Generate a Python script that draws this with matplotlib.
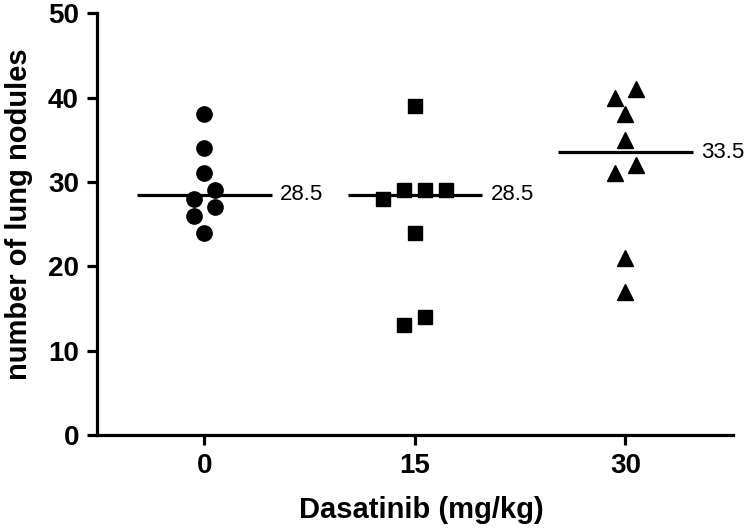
import numpy as np
import matplotlib.pyplot as plt

# lung nodule counts per dasatinib dose
doses = ['0', '15', '30']
nodules_0 = [38, 34, 31, 29, 28, 27, 26, 24]
nodules_15 = [39, 29, 29, 29, 28, 24, 14, 13]
nodules_30 = [41, 40, 38, 35, 32, 31, 21, 17]
groups = [nodules_0, nodules_15, nodules_30]
markers = ['o', 's', '^']
marker_sizes = [11, 10, 11]

plt.rcParams['font.family'] = ['Liberation Sans', 'DejaVu Sans']


def column_offsets(values, bin_width=1.5, spacing=0.1):
    # GraphPad-style column scatter: points close in value share a row
    # and get spread sideways, centred on the column
    order = np.argsort(values)
    offs = np.zeros(len(values))
    rows = []
    for i in order:
        if rows and values[i] - values[rows[-1][0]] < bin_width:
            rows[-1].append(i)
        else:
            rows.append([i])
    for row in rows:
        n = len(row)
        for k, i in enumerate(row):
            offs[i] = (k - (n - 1) / 2) * spacing
    return offs


fig = plt.figure(figsize=(7.55, 5.32), dpi=100)
ax = fig.add_axes([0.1285, 0.1823, 0.842, 0.793])

for pos, (vals, m, ms) in enumerate(zip(groups, markers, marker_sizes)):
    vals = np.array(vals, dtype=float)
    x = pos + column_offsets(vals)
    ax.plot(x, vals, linestyle='none', marker=m, markersize=ms, color='black')
    med = np.median(vals)
    ax.hlines(med, pos - 0.32, pos + 0.32, color='black', linewidth=2.3)
    ax.text(pos + 0.36, med, f'{med:g}', va='center', ha='left', fontsize=16)

ax.set_xlim(-0.51, 2.51)
ax.set_ylim(0, 50)
ax.set_xticks(range(len(doses)))
ax.set_xticklabels(doses)
ax.set_yticks(range(0, 51, 10))

for side in ['top', 'right']:
    ax.spines[side].set_visible(False)
for side in ['left', 'bottom']:
    ax.spines[side].set_linewidth(2.3)
ax.tick_params(width=2.3, length=7, pad=6, labelsize=20)
for lab in ax.get_xticklabels() + ax.get_yticklabels():
    lab.set_fontweight('bold')

ax.set_xlabel('Dasatinib (mg/kg)', fontsize=21, fontweight='bold')
ax.set_ylabel('number of lung nodules', fontsize=21, fontweight='bold')
ax.xaxis.set_label_coords(0.511, -0.145)
ax.yaxis.set_label_coords(-0.1, 0.524)

fig.savefig('out.png', dpi=100)
